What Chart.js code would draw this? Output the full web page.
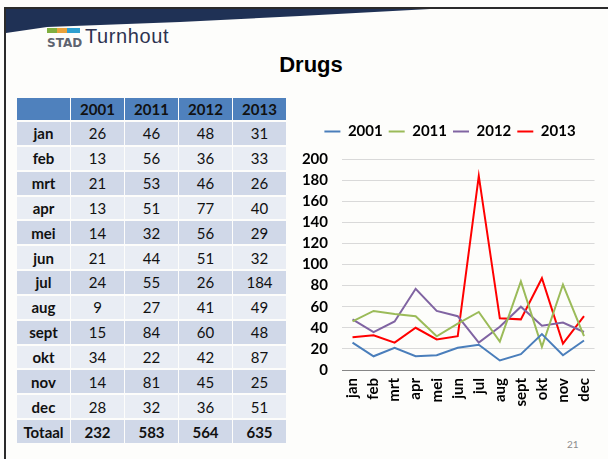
<!DOCTYPE html>
<html lang="nl">
<head>
    <meta charset="UTF-8">
    <title>Drugs</title>
    <script src="https://cdn.jsdelivr.net/npm/chart.js"></script>
    <style>
        body {
            margin: 0;
            background-color: #ffffff;
            font-family: Lato, "Open Sans", sans-serif;
        }
        #slide {
            position: relative;
            width: 608px;
            height: 459px;
            overflow: hidden;
            background-color: #fdfdfb;
        }
        #frame-left {
            position: absolute;
            left: 4px; top: 7px;
            width: 2px; height: 460px;
            background-color: #2b2b2b;
        }
        #frame-top {
            position: absolute;
            left: 4px; top: 7px;
            width: 604px; height: 2px;
            background-color: #2b2b2b;
        }
        #band {
            position: absolute;
            left: 0; top: 0;
        }
        .bar {
            position: absolute;
            top: 28px; height: 5px;
        }
        #stad {
            position: absolute;
            left: 47px; top: 36px;
            font-family: "DejaVu Sans", sans-serif;
            font-weight: bold;
            font-size: 12px;
            line-height: normal;
            color: #5f6470;
        }
        #turnhout {
            position: absolute;
            left: 85px; top: 25px;
            font-family: "Liberation Sans", sans-serif;
            font-size: 20px;
            letter-spacing: 0.6px;
            line-height: normal;
            color: #2e3350;
        }
        #title {
            position: absolute;
            left: 250px; top: 52px;
            width: 122px;
            text-align: center;
            font-family: "Liberation Sans", Arial, sans-serif;
            font-weight: bold;
            font-size: 22px;
            color: #000;
        }
        #tbl {
            position: absolute;
            left: 16px; top: 96px;
            border-collapse: separate;
            border-spacing: 1px 2px;
            font-size: 15px;
            color: #111;
        }
        #tbl td, #tbl th {
            width: 53px;
            padding: 0;
            text-align: center;
        }
        #tbl th {
            height: 22px;
            background-color: #4f81bd;
            font-weight: bold;
        }
        #tbl td {
            height: 22.85px;
        }
        #tbl td.lbl, #tbl tr.tot td {
            font-weight: bold;
        }
        #tbl tr.dark td { background-color: #d0d8e8; }
        #tbl tr.light td { background-color: #e9edf4; }
        #chart {
            position: absolute;
            left: 290px; top: 110px;
        }
        #pagenr {
            position: absolute;
            left: 567px; top: 438px;
            font-size: 10px;
            color: #8c8c8c;
        }
    </style>
</head>
<body>
<div id="slide">
    <svg id="band" width="608" height="40">
        <polygon points="6,9 430,9 300,16 180,22 47,27 6,33" fill="#1f3155"/>
    </svg>
    <div id="frame-left"></div>
    <div id="frame-top"></div>
    <div class="bar" style="left:47px;width:10px;background:#7fae3f"></div>
    <div class="bar" style="left:57px;width:10px;background:#e9a23b"></div>
    <div class="bar" style="left:67px;width:13px;background:#2f9fcf"></div>
    <div id="stad">STAD</div>
    <div id="turnhout">Turnhout</div>
    <div id="title">Drugs</div>
    <table id="tbl"></table>
    <canvas id="chart" width="320" height="305"></canvas>
    <div id="pagenr">21</div>
</div>

<script>
    var months = ['jan', 'feb', 'mrt', 'apr', 'mei', 'jun', 'jul', 'aug', 'sept', 'okt', 'nov', 'dec'];
    var years = ['2001', '2011', '2012', '2013'];
    var s2001 = [26, 13, 21, 13, 14, 21, 24, 9, 15, 34, 14, 28];
    var s2011 = [46, 56, 53, 51, 32, 44, 55, 27, 84, 22, 81, 32];
    var s2012 = [48, 36, 46, 77, 56, 51, 26, 41, 60, 42, 45, 36];
    var s2013 = [31, 33, 26, 40, 29, 32, 184, 49, 48, 87, 25, 51];
    var totals = [232, 583, 564, 635];
    var yTicks = [0, 200, 20]; // min, max, step

    var seriesColors = ['#4a7ebb', '#9bbb59', '#8064a2', '#ff0000'];
    var allSeries = [s2001, s2011, s2012, s2013];

    // table
    var tbl = document.getElementById('tbl');
    var html = '<tr><th></th>';
    years.forEach(function(y) { html += '<th>' + y + '</th>'; });
    html += '</tr>';
    months.forEach(function(m, i) {
        html += '<tr class="' + (i % 2 === 0 ? 'dark' : 'light') + '"><td class="lbl">' + m + '</td>';
        allSeries.forEach(function(s) { html += '<td>' + s[i] + '</td>'; });
        html += '</tr>';
    });
    html += '<tr class="tot dark"><td>Totaal</td>';
    totals.forEach(function(t) { html += '<td>' + t + '</td>'; });
    html += '</tr>';
    tbl.innerHTML = html;

    // extra room under the legend
    var legendGap = {
        id: 'legendGap',
        beforeInit: function(chart) {
            var fit = chart.legend.fit;
            chart.legend.fit = function() {
                fit.bind(chart.legend)();
                this.height += 10;
            };
        }
    };

    // chart
    var boldFont = { family: 'Lato', weight: 'bold', size: 15 };
    new Chart(document.getElementById('chart'), {
        type: 'line',
        data: {
            labels: months,
            datasets: years.map(function(y, i) {
                return {
                    label: y,
                    data: allSeries[i],
                    borderColor: seriesColors[i],
                    backgroundColor: seriesColors[i],
                    borderWidth: 2,
                    pointRadius: 0,
                    tension: 0
                };
            })
        },
        plugins: [legendGap],
        options: {
            responsive: false,
            animation: false,
            layout: { padding: { right: 0, top: 8 } },
            plugins: {
                tooltip: { enabled: false },
                legend: {
                    position: 'top',
                    labels: {
                        usePointStyle: true,
                        pointStyle: 'line',
                        pointStyleWidth: 16,
                        color: '#000',
                        font: boldFont,
                        padding: 6
                    }
                }
            },
            scales: {
                x: {
                    offset: true,
                    grid: { display: false, drawTicks: false },
                    border: { color: '#868686', width: 1 },
                    ticks: {
                        minRotation: 90,
                        maxRotation: 90,
                        autoSkip: false,
                        padding: 8,
                        color: '#000',
                        font: boldFont
                    },
                    afterFit: function(scale) { scale.height = 45; }
                },
                y: {
                    min: yTicks[0],
                    max: yTicks[1],
                    grid: { color: '#d9d9d9', drawTicks: false },
                    border: { display: false },
                    ticks: {
                        stepSize: yTicks[2],
                        padding: 14,
                        color: '#000',
                        font: boldFont
                    },
                    afterFit: function(scale) { scale.width = 52; }
                }
            }
        }
    });
</script>
</body>
</html>
